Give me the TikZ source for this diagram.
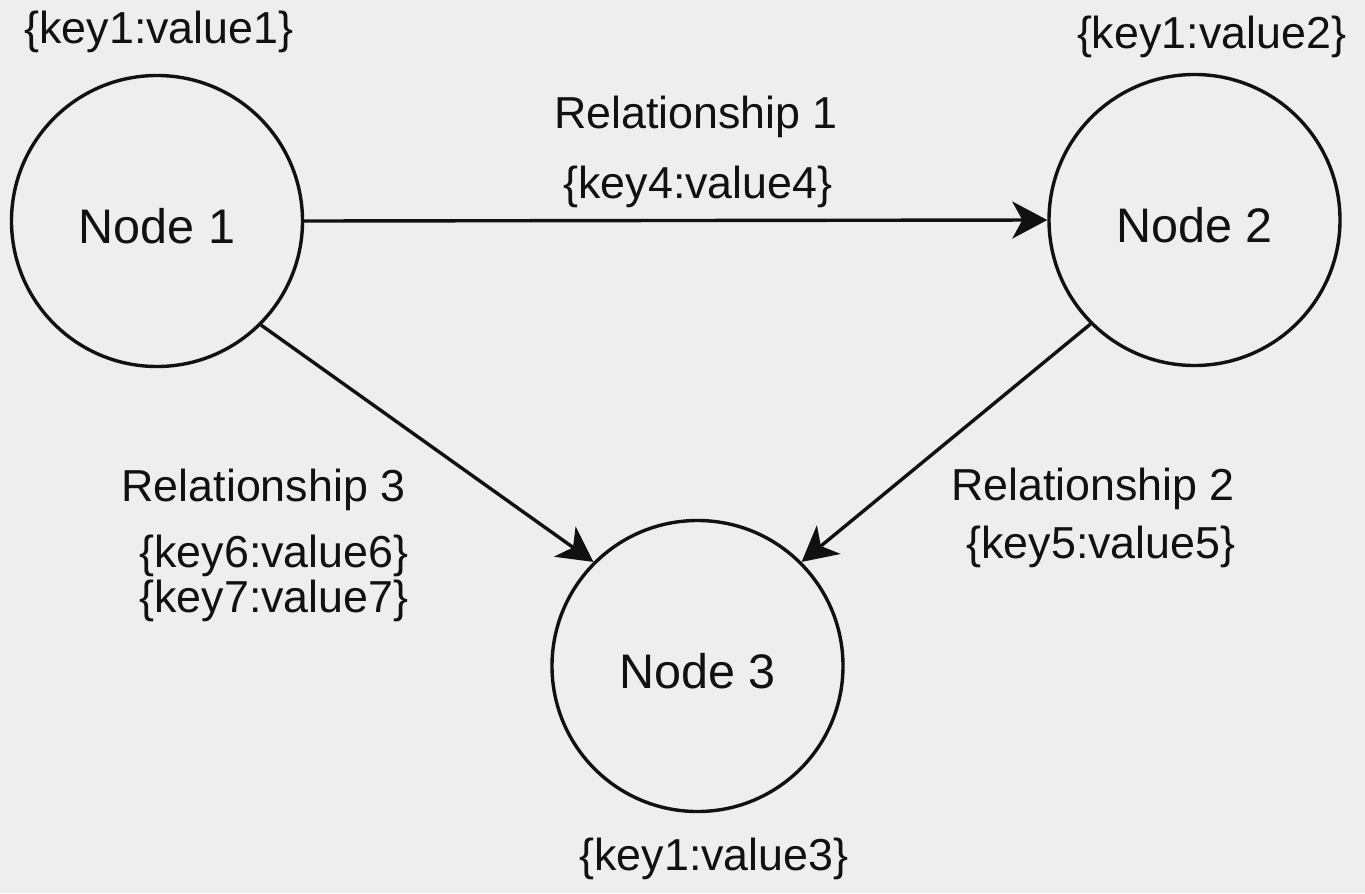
\documentclass[tikz,border=0pt]{standalone}
\usepackage{fontspec}
\setmainfont{Liberation Sans}
\usetikzlibrary{arrows.meta}
\definecolor{bg}{HTML}{EEEEEE}
\definecolor{ink}{HTML}{111111}
\begin{document}
\begin{tikzpicture}[x=1bp,y=-1bp,
  ent/.style={circle, draw=ink, line width=3.4bp, minimum size=291bp, inner sep=0pt,
    font=\fontsize{48.5bp}{58bp}\selectfont, text=ink, text height=44bp, text depth=0bp},
  lbl/.style={anchor=base, inner sep=0pt, font=\fontsize{44.8bp}{52bp}\selectfont, text=ink},
  rel/.style={draw=ink, line width=3.4bp, -{Stealth[length=35bp,width=37bp,inset=10bp]}}]
\fill[bg] (0,0) rectangle (1365,893);
\useasboundingbox (0,0) rectangle (1365,893);
\node[ent] (n1) at (157,221) {Node 1};
\node[ent] (n2) at (1194.5,220) {Node 2};
\node[ent] (n3) at (697.5,666) {Node 3};
\draw[rel] (n1.east) -- (n2.west);
\draw[rel] (n1.-45) -- (n3.135);
\draw[rel] (n2.-135) -- (n3.45);
\node[lbl] (p1) at (159,43) {\{key1:value1\}};
\node[lbl] (p2) at (1211.5,48) {\{key1:value2\}};
\node[lbl] (p3) at (714,870) {\{key1:value3\}};
\node[lbl] (r1) at (696,128) {Relationship 1};
\node[lbl] (k4) at (698,198) {\{key4:value4\}};
\node[lbl] (r3) at (263.5,501) {Relationship 3};
\node[lbl] (k6) at (274,567) {\{key6:value6\}};
\node[lbl] (k7) at (274,612) {\{key7:value7\}};
\node[lbl] (r2) at (1093,500) {Relationship 2};
\node[lbl] (k5) at (1101,558) {\{key5:value5\}};
\end{tikzpicture}
\end{document}
